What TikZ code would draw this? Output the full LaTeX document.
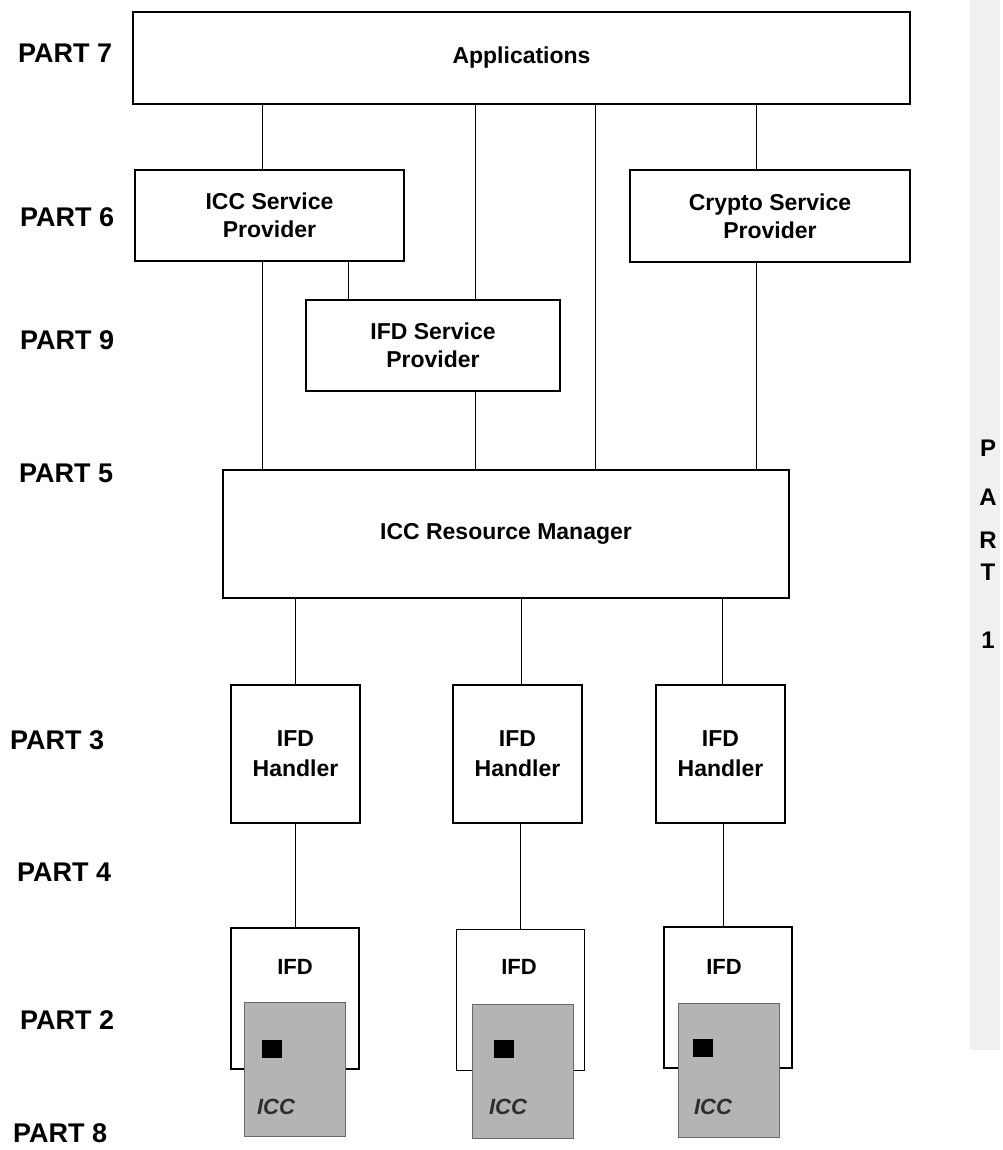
\documentclass[tikz,border=0pt]{standalone}
\usepackage{fontspec}
\setmainfont{Liberation Sans}
\usepackage{xcolor}
\definecolor{cardgray}{RGB}{180,180,180}
\definecolor{cardedge}{RGB}{105,105,105}
\definecolor{icctext}{RGB}{45,45,45}

\begin{document}
\begin{tikzpicture}[
    x=1pt, y=-1pt,
    layer/.style={draw=black,line width=1.1pt,fill=white,inner sep=0pt,align=center,font=\fontsize{23}{28}\selectfont\bfseries},
    handler/.style={layer,minimum width=129pt,minimum height=138pt,font=\fontsize{23}{30}\selectfont\bfseries},
    reader/.style={draw=black,line width=1.1pt,fill=white,inner sep=0pt,minimum width=128pt,minimum height=141pt},
    rdlabel/.style={inner sep=0pt,font=\fontsize{22}{26}\selectfont\bfseries},
    card/.style={draw=cardedge,line width=1pt,fill=cardgray,inner sep=0pt,minimum width=101pt,minimum height=134pt},
    chip/.style={fill=black,inner sep=0pt,minimum width=20pt,minimum height=18pt},
    icc/.style={inner sep=0pt,text=icctext,font=\fontsize{22}{26}\selectfont\bfseries\itshape},
    part/.style={anchor=west,inner sep=0pt,font=\fontsize{27}{30}\selectfont\bfseries},
    strip/.style={inner sep=0pt,font=\fontsize{24}{26}\selectfont\bfseries},
    link/.style={draw=black,line width=1pt}
  ]
    \useasboundingbox (0,0) rectangle (1002,1150);
    \fill[gray!12] (970,0) rectangle (1000,1050);

    % layers of the stack
    \node[layer,minimum width=777pt,minimum height=92pt] (apps) at (521.5,58) {Applications};
    \node[layer,minimum width=269pt,minimum height=91pt] (iccsp) at (269.5,215.5) {ICC Service\\Provider};
    \node[layer,minimum width=280pt,minimum height=92pt] (cryptosp) at (770,216) {Crypto Service\\Provider};
    \node[layer,minimum width=254pt,minimum height=91pt] (ifdsp) at (433,345.5) {IFD Service\\Provider};
    \node[layer,minimum width=566pt,minimum height=128pt] (rm) at (506,534) {ICC Resource Manager};

    \node[handler] (hdl1) at (295.5,754) {IFD\\Handler};
    \node[handler] (hdl2) at (517.5,754) {IFD\\Handler};
    \node[handler] (hdl3) at (720.5,754) {IFD\\Handler};

    % readers with inserted cards
    \node[reader] (ifd1) at (295,998.5) {};
    \node[reader] (ifd2) at (520.5,1000) {};
    \node[reader] (ifd3) at (728,997.5) {};
    \node[rdlabel] (ifdlbl1) at (295,967) {IFD};
    \node[rdlabel] (ifdlbl2) at (519,967) {IFD};
    \node[rdlabel] (ifdlbl3) at (724,967) {IFD};

    \node[card] (card1) at (294.5,1069.5) {};
    \node[card] (card2) at (523,1071.5) {};
    \node[card] (card3) at (728.5,1070) {};
    \node[chip] (chip1) at (272,1049) {};
    \node[chip] (chip2) at (504,1049) {};
    \node[chip] (chip3) at (703,1048) {};
    \node[icc] (icclbl1) at (276,1107) {ICC};
    \node[icc] (icclbl2) at (508,1107) {ICC};
    \node[icc] (icclbl3) at (713,1107) {ICC};

    % part labels
    \node[part] (p7) at (18,53) {PART 7};
    \node[part] (p6) at (20,217) {PART 6};
    \node[part] (p9) at (20,340) {PART 9};
    \node[part] (p5) at (19,473) {PART 5};
    \node[part] (p3) at (10,740) {PART 3};
    \node[part] (p4) at (17,872) {PART 4};
    \node[part] (p2) at (20,1020) {PART 2};
    \node[part] (p8) at (13,1133) {PART 8};

    \node[strip] (s1) at (988,448) {P};
    \node[strip] (s2) at (988,497) {A};
    \node[strip] (s3) at (988,540) {R};
    \node[strip] (s4) at (988,572) {T};
    \node[strip] (s5) at (988,640) {1};

    % connections
    \draw[link] ([xshift=-7.5pt]iccsp.north) -- ([xshift=-7.5pt]iccsp.north |- apps.south);
    \draw[link] ([xshift=42pt]ifdsp.north) -- ([xshift=42pt]ifdsp.north |- apps.south);
    \draw[link] ([xshift=89pt]rm.north) -- ([xshift=89pt]rm.north |- apps.south);
    \draw[link] ([xshift=-14pt]cryptosp.north) -- ([xshift=-14pt]cryptosp.north |- apps.south);

    \draw[link] ([xshift=-7.5pt]iccsp.south) -- ([xshift=-7.5pt]iccsp.south |- rm.north);
    \draw[link] ([xshift=78.5pt]iccsp.south) -- ([xshift=78.5pt]iccsp.south |- ifdsp.north);
    \draw[link] ([xshift=42pt]ifdsp.south) -- ([xshift=42pt]ifdsp.south |- rm.north);
    \draw[link] ([xshift=-14pt]cryptosp.south) -- ([xshift=-14pt]cryptosp.south |- rm.north);

    \draw[link] (hdl1.north) -- (hdl1.north |- rm.south);
    \draw[link] ([xshift=3.5pt]hdl2.north) -- ([xshift=3.5pt]hdl2.north |- rm.south);
    \draw[link] ([xshift=1.5pt]hdl3.north) -- ([xshift=1.5pt]hdl3.north |- rm.south);

    \draw[link] (hdl1.south) -- (hdl1.south |- ifd1.north);
    \draw[link] (ifd2.north) -- (ifd2.north |- hdl2.south);
    \draw[link] ([xshift=2.5pt]hdl3.south) -- ([xshift=2.5pt]hdl3.south |- ifd3.north);
\end{tikzpicture}
\end{document}
